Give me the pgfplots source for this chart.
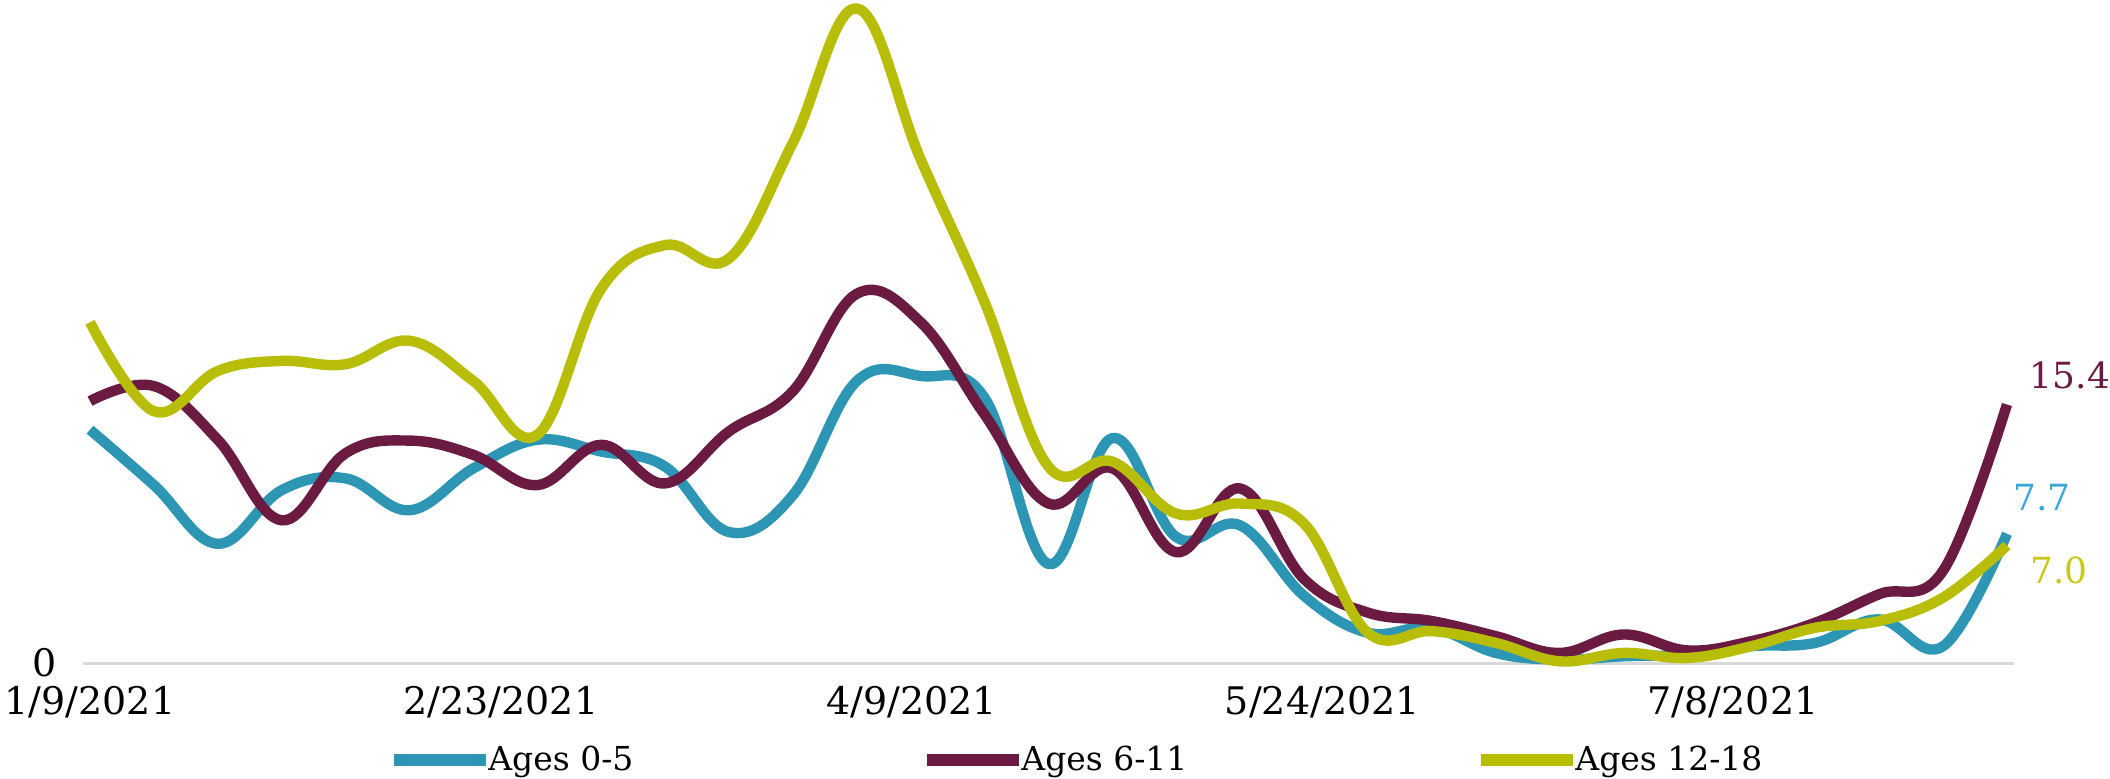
\documentclass[border=0pt]{standalone}
\usepackage{pgfplots}
\pgfplotsset{compat=1.18}
\usepackage{pgfplotstable}
\usepackage{fontspec}
\setmainfont{DejaVu Serif}
\definecolor{cblue}{RGB}{46,150,181}
\definecolor{cmaroon}{RGB}{107,26,65}
\definecolor{cyellow}{RGB}{184,190,8}
\definecolor{lblue}{RGB}{58,168,216}
\definecolor{lyellow}{RGB}{200,200,24}
\definecolor{axgray}{RGB}{217,217,217}
\pgfplotstableread{
i B M Y
0 13.9 15.6 20.3
1 10.6 16.5 15.0
2 7.1 13.3 17.4
3 10.3 8.5 18.0
4 11.0 12.5 17.8
5 9.1 13.25 19.2
6 11.6 12.4 16.8
7 13.3 10.6 13.6
8 12.6 13.0 22.3
9 11.7 10.7 24.9
10 7.8 13.8 24.1
11 10.0 16.2 31.0
12 16.8 22.0 39.0
13 17.1 20.3 30.0
14 15.8 14.8 21.5
15 5.9 9.5 11.7
16 13.4 11.6 12.0
17 7.5 6.6 8.9
18 8.2 10.4 9.5
19 4.0 5.0 8.3
20 1.8 3.0 1.8
21 2.1 2.5 1.9
22 0.6 1.6 1.2
23 0.2 0.6 0.1
24 0.4 1.7 0.6
25 0.5 0.75 0.3
26 1.0 1.3 1.0
27 1.2 2.4 2.1
28 2.6 4.1 2.5
29 1.0 5.5 3.9
30 7.7 15.4 7.0
}\datatable
\begin{document}
\begin{tikzpicture}
\path[use as bounding box] (0,0) rectangle (1055pt,389pt);
\begin{axis}[
  at={(41.5pt,57.5pt)}, anchor=south west,
  width=965.5pt, height=331.5pt, scale only axis,
  xmin=-0.11, xmax=30.11, ymin=0, ymax=39.5,
  clip=false,
  axis line style={draw=none},
  axis x line*=bottom, axis y line*=left,
  xtick={0,6.4286,12.857,19.2857,25.714},
  xticklabels={1/9/2021,2/23/2021,4/9/2021,5/24/2021,7/8/2021},
  ytick={0}, yticklabels={0},
  major tick length=0pt,
  tick label style={font=\fontsize{19}{23}\selectfont, text=black},
  xticklabel style={yshift=-8pt},
  yticklabel style={inner sep=0pt, xshift=-13pt},
  legend columns=3,
  legend style={at={(0.515,-0.146)}, anchor=center, draw=none, fill=none,
    font=\fontsize{16.5}{20}\selectfont,
    /tikz/every even column/.append style={column sep=142pt},
    /tikz/every odd column/.append style={column sep=-4pt}},
  legend image code/.code={\draw[#1, line width=6pt, line cap=butt] (0pt,0pt) -- (46pt,0pt);},
  every axis plot/.append style={line width=5.2pt, smooth, tension=0.65, line join=round},
]
\draw[axgray, line width=1.5pt] (rel axis cs:0,0) -- (rel axis cs:1,0);
\addplot[cblue] table[x=i, y=B] {\datatable};
\addlegendentry{Ages 0-5}
\addplot[cmaroon] table[x=i, y=M] {\datatable};
\addlegendentry{Ages 6-11}
\addplot[cyellow] table[x=i, y=Y] {\datatable};
\addlegendentry{Ages 12-18}
\node[text=cmaroon, font=\fontsize{18}{22}\selectfont] at (axis cs:30,15.4) [xshift=31.5pt, yshift=14.5pt] {15.4};
\node[text=lblue, font=\fontsize{18}{22}\selectfont] at (axis cs:30,7.7) [xshift=17.5pt, yshift=18pt] {7.7};
\node[text=lyellow, font=\fontsize{18}{22}\selectfont] at (axis cs:30,7.0) [xshift=26pt, yshift=-12.5pt] {7.0};
\end{axis}
\end{tikzpicture}
\end{document}
